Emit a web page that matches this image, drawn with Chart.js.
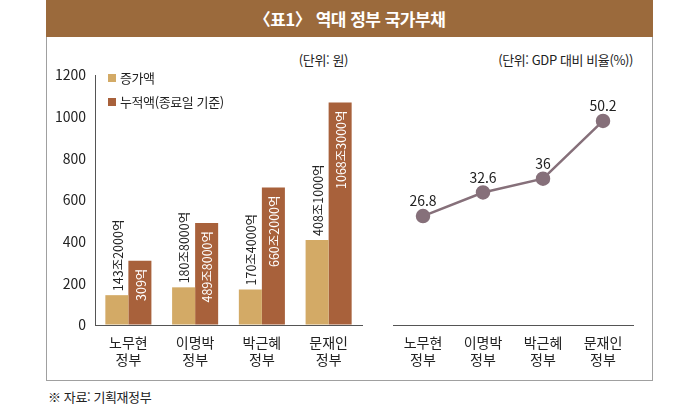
<!DOCTYPE html>
<html lang="ko">
<head>
<meta charset="utf-8">
<script src="https://cdn.jsdelivr.net/npm/chart.js@4.4.1/dist/chart.umd.min.js"></script>
<style>
  body { margin: 0; width: 700px; height: 410px; background: #fff; position: relative; overflow: hidden;
         font-family: "Noto Sans CJK KR", "Noto Sans", sans-serif; color: #222; }
  #card { position: absolute; left: 46px; top: 0; width: 605px; height: 380px; border: 1px solid #a0a0a0; border-top: none; }
  #title { position: absolute; left: 46px; top: 0; width: 607px; height: 37px; background: #9b6a3c; color: #fff;
           font-size: 17px; font-weight: bold; text-align: center; line-height: 37px; letter-spacing: -0.5px; }
  .unit { position: absolute; top: 50px; font-size: 13px; letter-spacing: -0.4px; text-align: right; }
  .legend { position: absolute; left: 108px; font-size: 13px; letter-spacing: -0.4px; line-height: 16px; }
  .legend i { display: inline-block; width: 8px; height: 8px; margin-right: 4px; vertical-align: 1px; }
  #source { position: absolute; left: 48px; top: 387px; font-size: 13px; letter-spacing: -0.4px; }
  canvas { position: absolute; top: 37px; }
</style>
</head>
<body>
<div id="card"></div>
<div id="title">〈표1〉 역대 정부 국가부채</div>
<div class="unit" style="right:352px">(단위: 원)</div>
<div class="unit" style="right:67px">(단위: GDP 대비 비율(%))</div>
<canvas id="debtChart" width="330" height="343" style="left:46px"></canvas>
<canvas id="ratioChart" width="276" height="343" style="left:376px"></canvas>
<div class="legend" style="top:70px"><i style="background:#d3aa66"></i>증가액</div>
<div class="legend" style="top:94px"><i style="background:#a8613b"></i>누적액(종료일 기준)</div>
<div id="source">※ 자료: 기획재정부</div>

<script>
const govs = ["노무현", "이명박", "박근혜", "문재인"];
const increase = [143.2, 180.8, 170.4, 408.1];
const cumulative = [309, 489.8, 660.2, 1068.3];
const increaseText = ["143조2000억", "180조8000억", "170조4000억", "408조1000억"];
const cumulativeText = ["309억", "489조8000억", "660조2000억", "1068조3000억"];
const gdpRatio = [26.8, 32.6, 36, 50.2];
const gdpText = ["26.8", "32.6", "36", "50.2"];
const yTicks = [0, 200, 400, 600, 800, 1000, 1200];

const labels = govs.map((g) => [g, "정부"]);
const FONT = "'Noto Sans CJK KR', 'Noto Sans', sans-serif";

// rotated value labels on the bars
const barText = {
  id: "barText",
  afterDatasetsDraw(chart) {
    const ctx = chart.ctx;
    ctx.save();
    ctx.font = "12.5px " + FONT;
    ctx.textBaseline = "middle";
    chart.getDatasetMeta(0).data.forEach((bar, i) => {
      ctx.save();
      ctx.translate(bar.x, bar.y - 4);
      ctx.rotate(-Math.PI / 2);
      ctx.fillStyle = "#222";
      ctx.textAlign = "left";
      ctx.fillText(increaseText[i], 0, 1);
      ctx.restore();
    });
    chart.getDatasetMeta(1).data.forEach((bar, i) => {
      ctx.save();
      ctx.translate(bar.x, bar.y + 8);
      ctx.rotate(-Math.PI / 2);
      ctx.fillStyle = "#fff";
      ctx.textAlign = "right";
      ctx.fillText(cumulativeText[i], 0, 1);
      ctx.restore();
    });
    ctx.restore();
  },
};

const pointText = {
  id: "pointText",
  afterDatasetsDraw(chart) {
    const ctx = chart.ctx;
    ctx.save();
    ctx.font = "14px " + FONT;
    ctx.fillStyle = "#222";
    ctx.textAlign = "center";
    ctx.textBaseline = "middle";
    chart.getDatasetMeta(0).data.forEach((pt, i) => {
      ctx.fillText(gdpText[i], pt.x, pt.y - 15);
    });
    ctx.restore();
  },
};

const xAxis = {
  grid: { drawOnChartArea: false, drawTicks: false },
  border: { color: "#555", width: 1 },
  ticks: { color: "#222", padding: 9, font: { family: FONT, size: 14, lineHeight: 1.2 } },
  afterFit(scale) { scale.height = 55; },
};

new Chart(document.querySelector("#debtChart"), {
  type: "bar",
  data: {
    labels: labels,
    datasets: [
      { label: "증가액", data: increase, backgroundColor: "#d3aa66" },
      { label: "누적액(종료일 기준)", data: cumulative, backgroundColor: "#a8613b" },
    ],
  },
  options: {
    responsive: false,
    animation: false,
    layout: { padding: { top: 38, right: 14, left: 0, bottom: 0 } },
    datasets: { bar: { barPercentage: 1, categoryPercentage: 0.69 } },
    plugins: { legend: { display: false }, tooltip: { enabled: false } },
    scales: {
      x: xAxis,
      y: {
        min: 0,
        max: 1200,
        afterBuildTicks(scale) { scale.ticks = yTicks.map((v) => ({ value: v })); },
        grid: { drawOnChartArea: false, drawTicks: false },
        border: { color: "#555", width: 1 },
        ticks: {
          color: "#222",
          padding: 9,
          font: { family: FONT, size: 14 },
          callback: (v) => String(v),
        },
        afterFit(scale) { scale.width = 49; },
      },
    },
  },
  plugins: [barText],
});

new Chart(document.querySelector("#ratioChart"), {
  type: "line",
  data: {
    labels: labels,
    datasets: [
      {
        data: gdpRatio,
        borderColor: "#86707a",
        backgroundColor: "#86707a",
        borderWidth: 2.5,
        pointRadius: 6,
        tension: 0,
      },
    ],
  },
  options: {
    responsive: false,
    animation: false,
    layout: { padding: { top: 38, right: 19, left: 17, bottom: 0 } },
    plugins: { legend: { display: false }, tooltip: { enabled: false } },
    scales: {
      x: Object.assign({}, xAxis, { offset: true }),
      y: { display: false, min: 0, max: 61.5 },
    },
  },
  plugins: [pointText],
});
</script>
</body>
</html>
